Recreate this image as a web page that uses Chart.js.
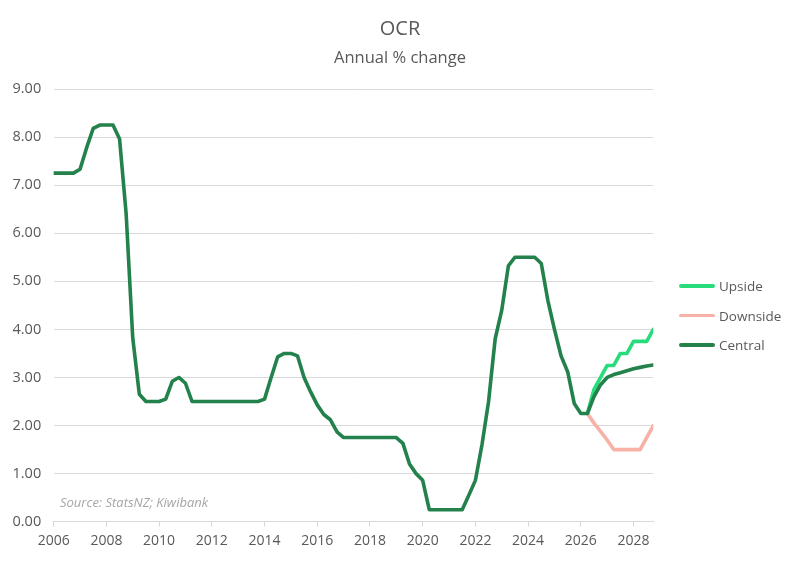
<!DOCTYPE html>
<html>
<head>
<meta charset="utf-8">
<title>OCR</title>
<script src="https://cdn.jsdelivr.net/npm/chart.js@4.4.1/dist/chart.umd.min.js"></script>
<style>
  body { margin: 0; background: #fff; font-family: 'Open Sans', sans-serif; }
  #wrap { position: relative; width: 800px; height: 563px; }
  .head { position: absolute; left: 0; width: 800px; text-align: center; color: #595959; }
  #title { top: 16px; font-size: 20px; line-height: 24px; }
  #subtitle { top: 47px; font-size: 16.5px; line-height: 19px; }
  #legend { position: absolute; left: 679px; top: 276px; }
  .item { display: flex; align-items: center; height: 20px; margin-bottom: 9.5px; font-size: 13.5px; color: #595959; }
  .swatch { width: 36px; height: 3.5px; margin-right: 4px; border-radius: 2px; }
  #source { position: absolute; left: 60px; top: 493px; font-size: 13px; font-style: italic; color: #a6a6a6; }
</style>
</head>
<body>
<div id="wrap">
  <canvas id="ocrChart" width="800" height="563"></canvas>
  <div class="head" id="title">OCR</div>
  <div class="head" id="subtitle">Annual % change</div>
  <div id="legend"></div>
  <div id="source">Source: StatsNZ; Kiwibank</div>
</div>
<script>
// Quarterly OCR, first point is 2006 Q1
const firstYear = 2006;

// 2006 Q1 .. 2026 Q2
const history = [
    7.25, 7.25, 7.25, 7.25,   // 2006
    7.33, 7.78, 8.18, 8.25,   // 2007
    8.25, 8.25, 7.96, 6.40,   // 2008
    3.82, 2.65, 2.50, 2.50,   // 2009
    2.50, 2.55, 2.92, 3.00,   // 2010
    2.88, 2.50, 2.50, 2.50,   // 2011
    2.50, 2.50, 2.50, 2.50,   // 2012
    2.50, 2.50, 2.50, 2.50,   // 2013
    2.55, 3.00, 3.43, 3.50,   // 2014
    3.50, 3.45, 3.00, 2.70,   // 2015
    2.43, 2.23, 2.12, 1.87,   // 2016
    1.75, 1.75, 1.75, 1.75,   // 2017
    1.75, 1.75, 1.75, 1.75,   // 2018
    1.75, 1.63, 1.20, 1.00,   // 2019
    0.86, 0.25, 0.25, 0.25,   // 2020
    0.25, 0.25, 0.25, 0.55,   // 2021
    0.86, 1.60, 2.50, 3.80,   // 2022
    4.40, 5.32, 5.50, 5.50,   // 2023
    5.50, 5.50, 5.37, 4.60,   // 2024
    4.00, 3.45, 3.12, 2.46,   // 2025
    2.25, 2.25                // 2026 Q1-Q2
];

// Forecasts, 2026 Q2 .. 2028 Q4
const centralForecast  = [2.25, 2.60, 2.85, 3.00, 3.06, 3.10, 3.14, 3.18, 3.21, 3.24, 3.26];
const upsideForecast   = [2.25, 2.75, 3.00, 3.25, 3.25, 3.50, 3.50, 3.75, 3.75, 3.75, 4.00];
const downsideForecast = [2.25, 2.05, 1.88, 1.70, 1.50, 1.50, 1.50, 1.50, 1.50, 1.75, 2.00];

const yTicks = [0, 1, 2, 3, 4, 5, 6, 7, 8, 9];
const xTickStep = 2;

const forecastStart = history.length - 1;

function toPoints(values, startIndex) {
    return values.map((v, i) => ({ x: firstYear + (startIndex + i) / 4, y: v }));
}

const textColor = '#595959';
const gridColor = '#d9d9d9';
Chart.defaults.font.family = "'Open Sans', sans-serif";
Chart.defaults.color = textColor;

const chart = new Chart(document.getElementById('ocrChart').getContext('2d'), {
    type: 'line',
    data: {
        datasets: [{
            label: 'Upside',
            data: toPoints(upsideForecast, forecastStart),
            borderColor: '#27dc7b',
            order: 1
        }, {
            label: 'Downside',
            data: toPoints(downsideForecast, forecastStart),
            borderColor: '#f7b1a6',
            order: 1
        }, {
            label: 'Central',
            data: toPoints(history.concat(centralForecast.slice(1)), 0),
            borderColor: '#23814b',
            order: 0
        }]
    },
    options: {
        responsive: false,
        animation: false,
        layout: {
            // title, subtitle and legend are html, so the plot is placed by padding
            padding: { left: 0, right: 146.7, top: 89, bottom: 7.5 }
        },
        elements: {
            point: { radius: 0 },
            line: { borderWidth: 3.6, tension: 0, borderJoinStyle: 'round', borderCapStyle: 'round', fill: false }
        },
        scales: {
            x: {
                type: 'linear',
                min: firstYear,
                max: firstYear + (forecastStart + centralForecast.length - 1) / 4,
                afterBuildTicks: axis => {
                    axis.ticks = axis.ticks.filter(t => Number.isInteger(t.value) && (t.value - firstYear) % xTickStep === 0);
                },
                ticks: {
                    stepSize: xTickStep,
                    includeBounds: false,
                    autoSkip: false,
                    maxRotation: 0,
                    padding: 6,
                    color: textColor,
                    font: { size: 14 },
                    callback: v => String(v)
                },
                grid: { drawOnChartArea: false, tickLength: 5, color: gridColor },
                border: { color: gridColor }
            },
            y: {
                min: yTicks[0],
                max: yTicks[yTicks.length - 1],
                afterBuildTicks: axis => {
                    axis.ticks = yTicks.map(v => ({ value: v }));
                },
                ticks: {
                    padding: 12.5,
                    color: textColor,
                    font: { size: 14.5 },
                    callback: v => Number(v).toFixed(2)
                },
                grid: { color: gridColor, drawTicks: false },
                border: { display: false }
            }
        },
        plugins: {
            legend: { display: false },
            tooltip: { enabled: false }
        }
    }
});

// Legend built from the datasets, kept outside the canvas so it sits where the original had it
const legendEl = document.getElementById('legend');
chart.data.datasets.forEach(ds => {
    const row = document.createElement('div');
    row.className = 'item';
    const swatch = document.createElement('span');
    swatch.className = 'swatch';
    swatch.style.background = ds.borderColor;
    const label = document.createElement('span');
    label.textContent = ds.label;
    row.appendChild(swatch);
    row.appendChild(label);
    legendEl.appendChild(row);
});
</script>
</body>
</html>
